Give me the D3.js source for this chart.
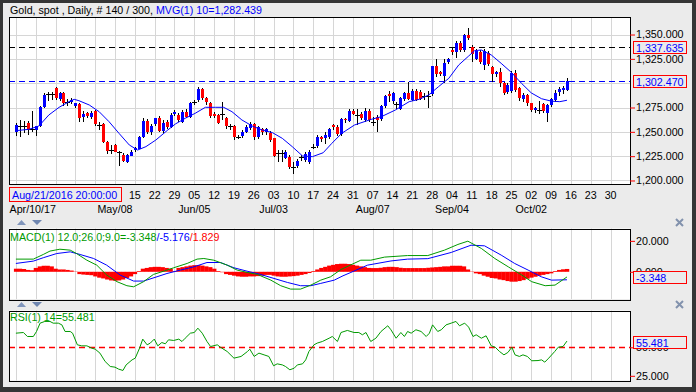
<!DOCTYPE html>
<html>
<head>
<meta charset="utf-8">
<script src="https://cdn.jsdelivr.net/npm/d3@7"></script>
<style>
  body { margin: 0; background: #353535; }
  svg { display: block; }
  text { font-family: Arial, "Liberation Sans", sans-serif; font-size: 10.7px; }
</style>
</head>
<body>
<svg width="696" height="392"></svg>
<script>
// daily OHLC, bar 0 = Mon Apr 3 2017 ... bar 139 = Fri Oct 13 2017
const opens = [1250,1256.5,1256,1259,1253,1252,1256,1276,1288.5,1289,1295,1284,1289.5,1281,1281,1276,1279,1265,1269,1265.5,
  1271.7,1257,1258,1240,1231.3,1236.5,1229.6,1226,1219.5,1226,1231,1233,1245,1261,1249.5,1258,1264,1251,1260,1255,
  1268.3,1267.3,1260.4,1270.7,1265.6,1280.5,1282.7,1293.6,1284.4,1280,1268.3,1267.3,1268,1263.9,1255.5,1256,1245,1245.7,1250.2,1253.6,
  1258,1244.3,1252.6,1249.2,1249.2,1243.3,1228.5,1228,1223.8,1224.5,1214.3,1214.9,1224,1221,1219.3,1234.2,1234.8,1244.3,1243.5,1244.3,
  1257,1255.3,1247.8,1262.8,1261.5,1271.7,1267.5,1268.3,1262.2,1271.7,1260.6,1265.6,1262.8,1276.5,1288.9,1281,1278.5,1273.1,1283.4,1289.6,
  1283.4,1292.3,1291.3,1286.7,1287,1289,1317.6,1311.8,1307.4,1321.1,1334.5,1332.4,1341.6,1334,1349.5,1337.5,1325.5,1332,1319,1330.7,
  1317,1309,1311,1300,1291.3,1291.3,1310.1,1294.7,1283.4,1287.8,1279.3,1271.7,1272.5,1279,1269.7,1277.6,1283.4,1290.2,1293,1293.7];
const highs = [1259,1262,1261,1261,1271,1256,1277,1290,1291,1291,1296,1291,1291,1284,1285,1280,1280,1271,1270,1271,
  1272,1260,1259,1241,1236,1237,1230,1228,1227,1231,1234,1246,1264.5,1263,1258,1264.5,1266,1262,1262,1269,
  1272,1269,1272,1273,1281,1283,1295.7,1295,1286,1281,1270,1268,1281,1265,1258,1257,1247,1252,1257,1260,
  1259,1256,1254,1254,1251,1244,1231,1231,1231,1226,1219,1222,1226,1229,1231,1237,1247,1246,1250,1254,
  1258,1257,1264,1264,1273,1273,1273,1270,1274,1273,1265,1267,1278,1288,1292.3,1291,1281,1286,1291,1301.5,
  1294,1294,1293,1290,1292,1318,1324.5,1313,1324.5,1326,1336,1343,1343,1351,1356.4,1339,1335,1334,1335,1333,
  1318,1313,1316,1301,1300,1312,1313.5,1296,1290,1289,1280,1276,1282,1280,1279,1285,1293,1296,1297,1305];
const lows = [1246,1245,1249,1247,1250,1246,1255,1275,1282,1283,1283,1282,1277,1277,1279,1274,1260,1260,1264,1263,
  1256,1252,1239,1227,1227,1229,1215,1219,1218,1225,1229,1232,1244,1248,1247,1256,1250,1249,1253,1254,
  1266,1260,1259,1264,1264,1278,1281,1283,1278,1264,1264,1258,1262,1253,1252,1242,1243,1244,1249,1252,
  1242,1243,1247,1247,1240,1224,1219,1219,1222,1212,1206.7,1213,1220,1219,1217,1232,1233,1240,1237,1243,
  1252,1246,1246,1259,1260,1267,1257,1262,1260,1260,1256,1250,1261,1275,1281,1279,1273,1272,1282,1282.7,
  1282,1282,1283,1282.7,1275,1287,1306,1307,1299.8,1320,1329,1325.5,1332,1332,1344,1322,1324,1320,1314,1318,
  1301.5,1306,1296,1288,1289,1290,1291,1282,1281,1277,1270,1269.7,1268,1269,1260.4,1276,1281,1287,1289,1292];
const closes = [1257,1256.5,1256,1252,1253,1256,1276,1288,1288.5,1289,1284.5,1290,1279.3,1281,1283,1279.5,1264.5,1268,1265.5,1269.5,
  1258,1257,1240,1230.6,1231.3,1229.6,1229.6,1219.5,1226.2,1229.6,1233.5,1245,1261,1250,1256,1264.5,1251,1259.5,1255,1267.3,
  1270,1262.2,1270.7,1265.6,1280,1280.5,1293.6,1284.4,1280,1266.3,1266.3,1259.4,1268,1255.3,1255.5,1244.3,1245,1250.2,1255.3,1258,
  1245,1254.6,1249.2,1252.6,1242.3,1225.2,1228.5,1228,1229.6,1214.2,1214.3,1220.4,1224,1227.2,1229.6,1234.2,1244.3,1242.3,1247,1252.6,
  1254.6,1247.8,1262.8,1261.5,1271.7,1269,1267.5,1263.9,1271.7,1262.2,1260.6,1262.2,1276.5,1286.8,1286.8,1289.6,1278.5,1284.4,1289.6,1283.4,
  1292.3,1283.4,1284.4,1286.7,1287,1317.6,1309.4,1309.4,1321.1,1324.5,1332,1341.6,1334,1349.5,1346.1,1330,1333.4,1322,1333.4,1319.7,
  1310,1311,1299.8,1289.6,1298.1,1310.1,1293,1284.4,1287.8,1279.3,1271.7,1274.1,1272.5,1271.7,1277.6,1283.4,1290.2,1293.7,1294.7,1302.47];

// MVG(1) 10 as [bar, value]
const maLine = [[0,1251.2],[3.3,1252.6],[5.8,1256],[8.3,1267.3],[10.9,1275.2],[13.4,1281],[14.7,1283.4],[15.9,1282],
  [18.5,1277.6],[21,1270.7],[23.5,1260.4],[26,1248.5],[28.6,1236.5],[30.7,1231.3],[32.8,1234.8],[35.3,1241.6],
  [38.2,1251.5],[40.2,1258],[42.7,1263.9],[45.2,1269],[47.8,1275.2],[50.3,1275.2],[52.4,1275.2],[54.5,1270.7],
  [57,1262.2],[59.6,1256],[62.1,1251.9],[64.7,1249.2],[67.2,1243.3],[69.7,1234.8],[72.3,1225.2],[74.8,1224.5],
  [77.5,1228.5],[79.7,1238.2],[82.2,1248.5],[85.4,1257],[89.6,1262.8],[92.2,1265.6],[95.7,1272.4],[99.2,1281],
  [101.7,1283.4],[104.1,1287.8],[106.6,1296.4],[109.2,1305],[111.7,1318.7],[114.1,1327.5],[115.7,1333.4],[117.4,1334.1],
  [119.9,1329],[122.4,1320.4],[125,1311],[127.5,1300],[130,1290],[132.6,1284],[135.1,1281.5],[137.2,1281],[139,1282.44]];

const macdLine = [[0,8.2],[4.4,8.2],[6.9,11.2],[8.6,13.4],[11.1,14.6],[13.7,14],[15.3,11.8],[17.9,7.5],[20.4,4.3],
  [22.9,-2.1],[25.5,-6.4],[28,-9],[29.7,-9.7],[32.2,-6.4],[34.7,-1.7],[37.3,0.4],[39.8,2.6],[43.2,5.4],[45.7,8.2],
  [47.4,8.6],[49.9,7.5],[53.3,4.3],[55.8,1.1],[58.3,-0.4],[60.9,-1.7],[64.3,-5.4],[66.8,-9],[69.3,-11.2],[71.8,-11.2],
  [74.4,-8.6],[76.9,-5.4],[79.4,-3.2],[82,1.5],[84.5,4.5],[87,7.5],[89.5,7.5],[93,9.5],[98.8,10.5],[103.9,10.5],
  [108.1,14],[111.5,17.7],[114,19.8],[117.4,15.1],[120.8,8.6],[124.2,3.2],[127.6,-2.1],[130.1,-6.4],[133.5,-9],
  [136,-8.6],[139,-3.348]];
const signalLine = [[0,5.4],[4.4,6.9],[6.9,9.1],[10.3,11.8],[13.7,12.9],[16.2,11.2],[19.6,8.6],[22.9,4.3],[26.3,-2.1],
  [29.7,-6],[32.2,-6],[35.6,-3.2],[38.1,-1.1],[41.5,1.1],[44.9,3.2],[48.2,6],[51.6,6],[55,2.6],[58.3,0.4],[61.7,-1.7],
  [65.1,-4.3],[68.5,-6.9],[71.8,-9],[74.4,-9],[76.9,-7.5],[80.3,-5.4],[82.5,-2.6],[84.5,-0.4],[88.7,4.3],[94.6,7],
  [98.8,8.2],[103.9,8.5],[109.8,12.5],[114.8,17.2],[118.2,16.8],[122.4,10.8],[125.8,5.4],[129.2,1.1],[132.5,-3.2],
  [135.1,-5.4],[139,-5.176]];
const macdHist = [2,2,1.8,1.2,1,2.5,3.5,3.9,3.9,3.5, 2,1.5,1.5,1.2,0.8,0.2,-1.5,-1.8,-2,-2.2,
  -3,-3.8,-4.3,-5,-5.6,-5.8,-5.6,-5,-4,-3, -1.5,0.5,2,2.5,3,3.2,3.2,3,2.5,2,
  0.5,2.5,3,3.5,4,4.3,4.3,4,3.5,3, 2,0.5,-0.3,-1.5,-2,-2.5,-3,-3.2,-3.2,-3,
  -3,-2.8,-2.5,-2,-2,-2.5,-3,-3.2,-3.2,-3, -2.8,-2.5,-2,-1.5,-0.8,0.5,1.5,2.5,3.2,4,
  4.5,5,5.2,5.2,5,4.5,4,3.5,3,2.5, 2.4,2.4,2.6,3,3.2,3.2,3,2.6,2.4,2.4,
  2.4,2.4,2.4,2.4,2.6,2.8,3,3.2,3.5,3.5, 3.9,3.9,3.9,3.5,1.5,0.2,-1,-1.5,-2.5,-3.2,
  -4,-4.3,-5,-5.4,-6,-6.4,-6.4,-6,-5.4,-4.5, -3.8,-3.2,-2.5,-2,-1.5,-1,0.5,1.2,1.6,1.829];

const rsiLine = [[0,62.4],[1.9,63],[2.9,59.5],[4.4,59.5],[5.2,63.9],[6.1,71.2],[7.3,72.7],[8.6,72.7],[9.4,71.2],[10.7,71.2],
  [11.6,69.7],[12.4,63.9],[13.7,63.9],[14.3,62.4],[15.5,52.2],[16.6,51.3],[17.9,51.3],[19.1,49.3],[20,48.4],[21.2,44.9],
  [22.5,37.6],[23.8,33.2],[25,32.6],[25.9,30.9],[27,29.7],[27.8,34.6],[29.3,39],[30.1,40.5],[31.2,49.3],[32,57.2],
  [33.1,52.2],[33.9,53.7],[34.9,57.2],[35.8,51.3],[36.8,54.2],[37.7,53.1],[38.5,56.6],[39.8,56],[41.1,57.2],[41.9,55.1],
  [42.7,58],[44,62.4],[45,63],[45.9,66.8],[47,62.4],[48.2,55.1],[49.1,50.7],[50.8,52.2],[51.6,50.1],[53.3,46.3],
  [55,40.5],[56.8,42],[58.4,46.3],[59,48.4],[60.1,42],[61.3,44.9],[62.6,43.4],[63.8,42],[65,33.8],[65.9,35.5],
  [67.2,34.6],[68,33.2],[69.1,30.3],[70.2,31.7],[71,34.6],[72.3,35.5],[73.1,39],[73.9,46.3],[75.2,52.2],[76,53.7],
  [77.3,55.1],[79,58],[79.8,59.5],[81.1,55.1],[82,63],[83.6,64.8],[85.3,63],[86.5,63],[87.4,61],[88.3,63],
  [89.5,55.1],[90.8,58],[92.1,63.9],[93.8,68.9],[94.6,65.4],[95.9,58],[97.1,63],[98,59.5],[98.8,63.9],[99.7,62.4],
  [100.9,65.4],[102.2,63.9],[103.5,59.5],[104.3,62.4],[105.1,69.7],[106.4,63.9],[107.3,65.4],[108.5,69.7],[109.8,71.2],[111,72.7],
  [111.9,68.9],[113.2,71.2],[114.2,67.7],[115.3,59.5],[116.1,61],[117.4,58],[118.6,60.1],[119.9,51.3],[120.9,50.1],[122,46.3],
  [123.1,43.4],[124.1,45.5],[125.1,50.1],[125.9,43.4],[127,42],[127.9,43.4],[129,42],[130.1,38.2],[131.7,38.4],[132.6,39],
  [133.4,37],[134.4,40.5],[135.9,46.3],[136.8,50.1],[138,50.7],[139,55.481]];

const priceTicks = [1200, 1225, 1250, 1275, 1300, 1325, 1350];
const macdTicks = [0, 20];
const rsiTicks = [25, 50];
// weekly labels from Apr 3; the first six sit under the cursor date box
const weekLabels = ['03','10','17','24','01','08','15','22','29','05','12','19','26','03','10','17',
  '24','31','07','14','21','28','04','11','18','25','02','09','16','23','30'];
const monthLabels = ['Apr/10/17','May/08','Jun/05','Jul/03','Aug/07','Sep/04','Oct/02'];
const monthWeeks = [1, 5, 9, 13, 18, 22, 26];
const levels = [{v: 1337.635, c: '#000000'}, {v: 1302.47, c: '#0000ff'}];

const svg = d3.select('svg');
const width = +svg.attr('width');
const height = +svg.attr('height');

const bg = '#ebebeb';
const green = '#009a00';
const left = 9, right = 630;
const fmt = d3.format(',.3f');

svg.append('rect').attr('width', width).attr('height', height).attr('fill', '#353535');
svg.append('rect').attr('x', 3).attr('y', 3).attr('width', 689).attr('height', 384).attr('fill', bg);

const x = d3.scaleLinear().domain([-1.74, 154.9]).range([left, right]);
const yPrice = d3.scaleLinear().domain([1196.4, 1368]).range([184, 17]);
const yMacd = d3.scaleLinear().domain([-17.6, 28]).range([299, 228.5]);
const yRsi = d3.scaleLinear().domain([20.9, 82.3]).range([380.5, 310.5]);

const px = i => Math.round(x(i));
const gridWeeks = d3.range(0, 31);

const pane = (id, top, bottom) => {
    const g = svg.append('g');
    g.append('clipPath').attr('id', id)
        .append('rect').attr('x', left).attr('y', top).attr('width', right - left).attr('height', bottom - top);
    g.append('rect')
        .attr('x', left).attr('y', top)
        .attr('width', right - left).attr('height', bottom - top)
        .attr('fill', '#ffffff');
    g.selectAll('.vgrid')
        .data(gridWeeks)
        .join('line')
        .attr('class', 'vgrid')
        .attr('x1', k => px(k * 5) + 0.5).attr('x2', k => px(k * 5) + 0.5)
        .attr('y1', top).attr('y2', bottom)
        .attr('stroke', '#d6d6d6');
    const inner = g.append('g').attr('clip-path', `url(#${id})`);
    const frame = () => g.append('rect')
        .attr('x', left + 0.5).attr('y', Math.round(top) + 0.5)
        .attr('width', right - left).attr('height', Math.round(bottom - top))
        .attr('fill', 'none').attr('stroke', '#000');
    return {g, inner, frame};
};

// hidden = tick values whose label sits fully under a value box
const rightAxis = (scale, ticks, hidden = []) => {
    const ax = svg.append('g')
        .attr('transform', `translate(${right},0)`)
        .call(d3.axisRight(scale).tickValues(ticks).tickFormat(fmt).tickSize(5).tickPadding(1));
    ax.select('.domain').remove();
    ax.selectAll('.tick line').attr('stroke', '#ff0000');
    ax.selectAll('.tick text').attr('fill', '#000')
        .style('font-family', 'Arial, "Liberation Sans", sans-serif').style('font-size', '10.7px');
    ax.selectAll('.tick').filter(d => hidden.includes(d)).remove();
};

const valueBox = (yPos, label) => {
    svg.append('rect')
        .attr('x', 633.5).attr('y', Math.round(yPos - 5.5) + 0.5)
        .attr('width', 53).attr('height', 12)
        .attr('fill', bg).attr('stroke', '#ff0000');
    svg.append('text')
        .attr('x', 636).attr('y', Math.round(yPos - 5.5) + 10.5)
        .attr('fill', '#0000ff').text(label);
};

const line = d3.line().x(d => x(d[0]));

// ---- price pane
const main = pane('clip-main', 17, 184);
main.g.selectAll('.hgrid')
    .data(priceTicks)
    .join('line')
    .attr('class', 'hgrid')
    .attr('x1', left).attr('x2', right)
    .attr('y1', d => Math.round(yPrice(d)) + 0.5).attr('y2', d => Math.round(yPrice(d)) + 0.5)
    .attr('stroke', '#d6d6d6');
main.inner.raise();

main.inner.selectAll('.level')
    .data(levels)
    .join('line')
    .attr('x1', left).attr('x2', right)
    .attr('y1', d => Math.round(yPrice(d.v)) + 0.5).attr('y2', d => Math.round(yPrice(d.v)) + 0.5)
    .attr('stroke', d => d.c).attr('stroke-dasharray', '6,4');

const bars = closes.map((c, i) => ({i, o: opens[i], h: highs[i], l: lows[i], c}));

main.inner.selectAll('.wick')
    .data(bars)
    .join('line')
    .attr('x1', d => px(d.i) + 0.5).attr('x2', d => px(d.i) + 0.5)
    .attr('y1', d => Math.round(yPrice(d.h))).attr('y2', d => Math.round(yPrice(d.l)))
    .attr('stroke', '#000');

main.inner.selectAll('.body')
    .data(bars.filter(d => d.o !== d.c))
    .join('rect')
    .attr('x', d => px(d.i) - 1)
    .attr('y', d => Math.round(yPrice(Math.max(d.o, d.c))))
    .attr('width', 3)
    .attr('height', d => Math.max(1, Math.round(Math.abs(yPrice(d.o) - yPrice(d.c)))))
    .attr('fill', d => d.c > d.o ? '#0000ff' : '#ff0000');

main.inner.selectAll('.doji')
    .data(bars.filter(d => d.o === d.c))
    .join('line')
    .attr('x1', d => px(d.i) - 2).attr('x2', d => px(d.i) + 3)
    .attr('y1', d => Math.round(yPrice(d.c)) + 0.5).attr('y2', d => Math.round(yPrice(d.c)) + 0.5)
    .attr('stroke', '#000');

main.inner.append('path')
    .datum(maLine)
    .attr('d', line.y(d => yPrice(d[1])))
    .attr('fill', 'none').attr('stroke', '#0000ff').attr('stroke-width', 1);
main.frame();

rightAxis(yPrice, priceTicks, [1300]);
levels.forEach(d => valueBox(yPrice(d.v), fmt(d.v)));

const title = svg.append('text').attr('x', 10).attr('y', 14);
title.append('tspan').attr('fill', '#000').text('Gold, spot , Daily, # 140 / 300, ');
title.append('tspan').attr('fill', '#0000ff').text('MVG(1) 10=1,282.439');

// ---- date axis
const dateBox = {x0: 9.5, x1: 121.5};
svg.selectAll('.week')
    .data(weekLabels.map((t, k) => ({t, k})).filter(d => x(d.k * 5) - 7 > dateBox.x1))
    .join('text')
    .attr('x', d => x(d.k * 5)).attr('y', 199)
    .attr('text-anchor', 'middle').attr('fill', '#000')
    .text(d => d.t);
svg.selectAll('.month')
    .data(monthLabels)
    .join('text')
    .attr('x', (d, j) => x(monthWeeks[j] * 5) - (j === 0 ? 3 : 0)).attr('y', 213)
    .attr('text-anchor', 'middle').attr('fill', '#000')
    .text(d => d);
svg.append('rect')
    .attr('x', dateBox.x0).attr('y', 187.5).attr('width', dateBox.x1 - dateBox.x0).attr('height', 14)
    .attr('fill', bg).attr('stroke', '#ff0000');
svg.append('text').attr('x', 12).attr('y', 199).attr('fill', '#0000ff').text('Aug/21/2016 20:00:00');

// ---- pane header controls
const controls = y0 => {
    svg.append('path').attr('d', `M17,${y0 + 5}L21.5,${y0}L26,${y0 + 5}Z`).attr('fill', '#8095bb');
    svg.append('path').attr('d', `M32,${y0}L42,${y0}L37,${y0 + 5}Z`).attr('fill', '#6f86b0');
    svg.append('path').attr('d', `M676,${y0 - 1}L683,${y0 + 6}M683,${y0 - 1}L676,${y0 + 6}`)
        .attr('stroke', '#8292ad').attr('stroke-width', 2);
};
controls(220);
controls(302);

// ---- MACD pane
const macd = pane('clip-macd', 228.5, 299);
macd.inner.selectAll('.hist')
    .data(macdHist)
    .join('rect')
    .attr('x', (d, i) => x(i - 0.5))
    .attr('width', x(1) - x(0) + 0.3)
    .attr('y', d => yMacd(Math.max(0, d)))
    .attr('height', d => Math.abs(yMacd(d) - yMacd(0)))
    .attr('fill', '#ff0000');
macd.inner.append('path')
    .datum(signalLine)
    .attr('d', line.y(d => yMacd(d[1])))
    .attr('fill', 'none').attr('stroke', '#0000ff');
macd.inner.append('path')
    .datum(macdLine)
    .attr('d', line.y(d => yMacd(d[1])))
    .attr('fill', 'none').attr('stroke', green);
macd.frame();
rightAxis(yMacd, macdTicks);
valueBox(yMacd(-3.348), '-3.348');

const macdTitle = svg.append('text').attr('x', 10).attr('y', 241);
macdTitle.append('tspan').attr('fill', green).text('MACD(1) 12.0;26.0;9.0=-3.348');
macdTitle.append('tspan').attr('fill', '#0000ff').text('/-5.176');
macdTitle.append('tspan').attr('fill', '#ff0000').text('/1.829');

// ---- RSI pane
const rsi = pane('clip-rsi', 310.5, 380.5);
rsi.inner.append('line')
    .attr('x1', left).attr('x2', right)
    .attr('y1', Math.round(yRsi(50)) + 0.5).attr('y2', Math.round(yRsi(50)) + 0.5)
    .attr('stroke', '#ff0000').attr('stroke-width', 1.3).attr('stroke-dasharray', '6,4');
rsi.inner.append('path')
    .datum(rsiLine)
    .attr('d', line.y(d => yRsi(d[1])))
    .attr('fill', 'none').attr('stroke', green);
rsi.frame();
rightAxis(yRsi, rsiTicks);
valueBox(yRsi(55.481), '55.481');

svg.append('text').attr('x', 10).attr('y', 321).attr('fill', green).text('RSI(1) 14=55.481');
</script>
</body>
</html>
